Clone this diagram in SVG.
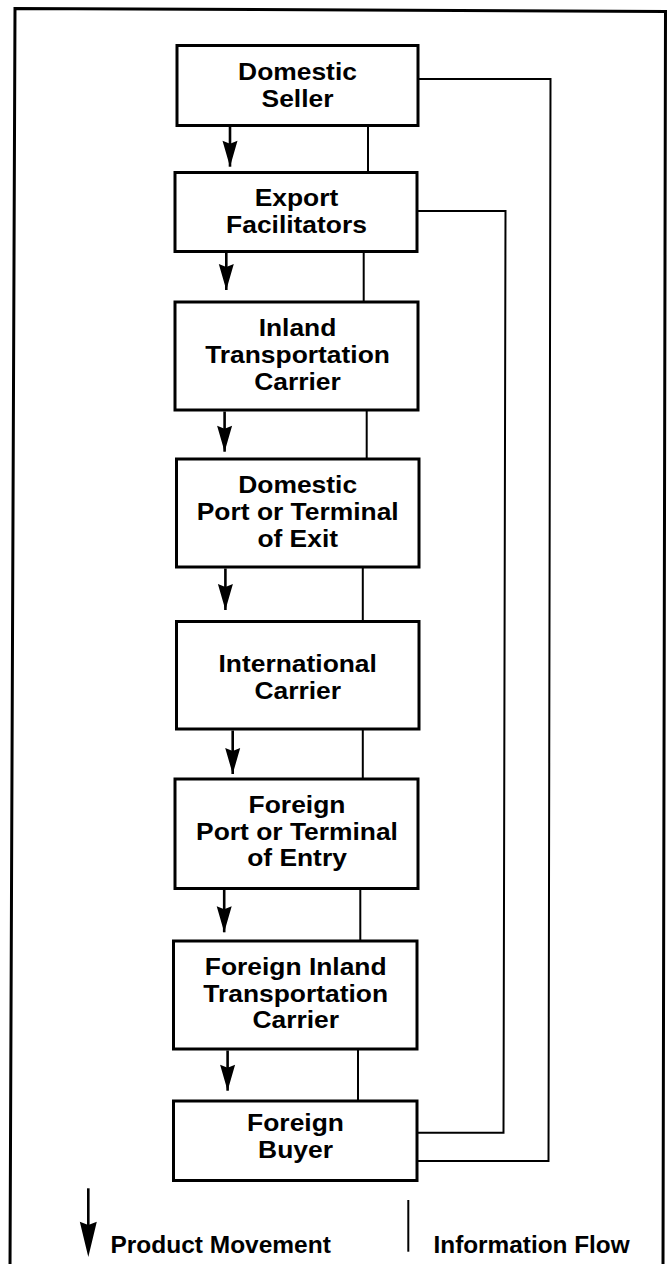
<svg xmlns="http://www.w3.org/2000/svg" width="667" height="1264" viewBox="0 0 667 1264">
<defs>
<style>
.box{fill:#fff;stroke:#000;stroke-width:3}
.lbl{font-family:"Liberation Sans",Arial,Helvetica,sans-serif;font-weight:bold;font-size:24px;fill:#000;text-anchor:middle}
.leg{font-family:"Liberation Sans",Arial,Helvetica,sans-serif;font-weight:bold;font-size:24px;fill:#000}
.mv{fill:none;stroke:#000;stroke-width:2.6}
.inf{fill:none;stroke:#000;stroke-width:2}
</style>
<marker id="ah" markerUnits="userSpaceOnUse" markerWidth="30" markerHeight="18" viewBox="-27 -9 30 18" refX="0" refY="0" orient="auto">
<path d="M0,0 L-26,-7.5 L-23,0 L-26,7.5 Z" fill="#000"/>
</marker>
</defs>
<rect x="0" y="0" width="667" height="1264" fill="#fff"/>
<path d="M10,1270 L15,8.5 L665.5,11.5 L663,1270" fill="none" stroke="#000" stroke-width="3"/>

<g id="connectors">
<line class="mv" x1="230" y1="127" x2="230" y2="166.7" marker-end="url(#ah)"/>
<line class="mv" x1="226.3" y1="253" x2="226.3" y2="290" marker-end="url(#ah)"/>
<line class="mv" x1="224.6" y1="411.5" x2="224.6" y2="451.7" marker-end="url(#ah)"/>
<line class="mv" x1="225.4" y1="568.5" x2="225.4" y2="610" marker-end="url(#ah)"/>
<line class="mv" x1="232.7" y1="730.5" x2="232.7" y2="774" marker-end="url(#ah)"/>
<line class="mv" x1="224.2" y1="890" x2="224.2" y2="932.3" marker-end="url(#ah)"/>
<line class="mv" x1="227.6" y1="1050.5" x2="227.6" y2="1090.7" marker-end="url(#ah)"/>

<line class="inf" x1="368" y1="125.5" x2="368" y2="172.5"/>
<line class="inf" x1="363.7" y1="251.5" x2="363.7" y2="302"/>
<line class="inf" x1="366.7" y1="410" x2="366.7" y2="459"/>
<line class="inf" x1="362.8" y1="567" x2="362.8" y2="621.5"/>
<line class="inf" x1="362.8" y1="729" x2="362.8" y2="779"/>
<line class="inf" x1="360.3" y1="888.5" x2="360.3" y2="941"/>
<line class="inf" x1="358" y1="1049" x2="358" y2="1101"/>

<polyline class="inf" points="418,79 550.5,79 548.5,1161 417,1161"/>
<polyline class="inf" points="417,211 505.5,211 503.5,1132.7 417,1132.7"/>
</g>

<g id="n1">
<rect class="box" x="177" y="45.5" width="241" height="80"/>
<text class="lbl" transform="translate(297.5 80) scale(1.1 1)">Domestic</text>
<text class="lbl" transform="translate(297.5 107) scale(1.1 1)">Seller</text>
</g>
<g id="n2">
<rect class="box" x="175" y="172.5" width="242" height="79"/>
<text class="lbl" transform="translate(296.5 206) scale(1.1 1)">Export</text>
<text class="lbl" transform="translate(296.5 233) scale(1.1 1)">Facilitators</text>
</g>
<g id="n3">
<rect class="box" x="175" y="302" width="243" height="108"/>
<text class="lbl" transform="translate(297.5 336) scale(1.1 1)">Inland</text>
<text class="lbl" transform="translate(297.5 363) scale(1.1 1)">Transportation</text>
<text class="lbl" transform="translate(297.5 390) scale(1.1 1)">Carrier</text>
</g>
<g id="n4">
<rect class="box" x="176.5" y="459" width="242.5" height="108"/>
<text class="lbl" transform="translate(297.7 493) scale(1.1 1)">Domestic</text>
<text class="lbl" transform="translate(297.7 520) scale(1.1 1)">Port or Terminal</text>
<text class="lbl" transform="translate(297.7 547) scale(1.1 1)">of Exit</text>
</g>
<g id="n5">
<rect class="box" x="176.5" y="621.5" width="242.5" height="107.5"/>
<text class="lbl" transform="translate(297.7 671.5) scale(1.1 1)">International</text>
<text class="lbl" transform="translate(297.7 698.5) scale(1.1 1)">Carrier</text>
</g>
<g id="n6">
<rect class="box" x="175" y="779" width="243" height="109.5"/>
<text class="lbl" transform="translate(297 812.5) scale(1.1 1)">Foreign</text>
<text class="lbl" transform="translate(297 839.5) scale(1.1 1)">Port or Terminal</text>
<text class="lbl" transform="translate(297 866) scale(1.1 1)">of Entry</text>
</g>
<g id="n7">
<rect class="box" x="173.5" y="941" width="243.5" height="108"/>
<text class="lbl" transform="translate(295.7 975) scale(1.1 1)">Foreign Inland</text>
<text class="lbl" transform="translate(295.7 1002) scale(1.1 1)">Transportation</text>
<text class="lbl" transform="translate(295.7 1028) scale(1.1 1)">Carrier</text>
</g>
<g id="n8">
<rect class="box" x="173.5" y="1101" width="243.5" height="79.5"/>
<text class="lbl" transform="translate(295.5 1130.5) scale(1.1 1)">Foreign</text>
<text class="lbl" transform="translate(295.5 1157.5) scale(1.1 1)">Buyer</text>
</g>

<g id="legend">
<line class="mv" x1="88.3" y1="1188.3" x2="88.3" y2="1226"/>
<path d="M79.8,1221.7 L88.3,1257 L96.8,1221.7 L88.3,1225 Z" fill="#000"/>
<text class="leg" transform="translate(110.5 1252.5) scale(1.02 1)">Product Movement</text>
<line class="inf" x1="408.3" y1="1200" x2="408.3" y2="1251.7"/>
<text class="leg" transform="translate(433.5 1252.5) scale(1.015 1)">Information Flow</text>
</g>
</svg>
